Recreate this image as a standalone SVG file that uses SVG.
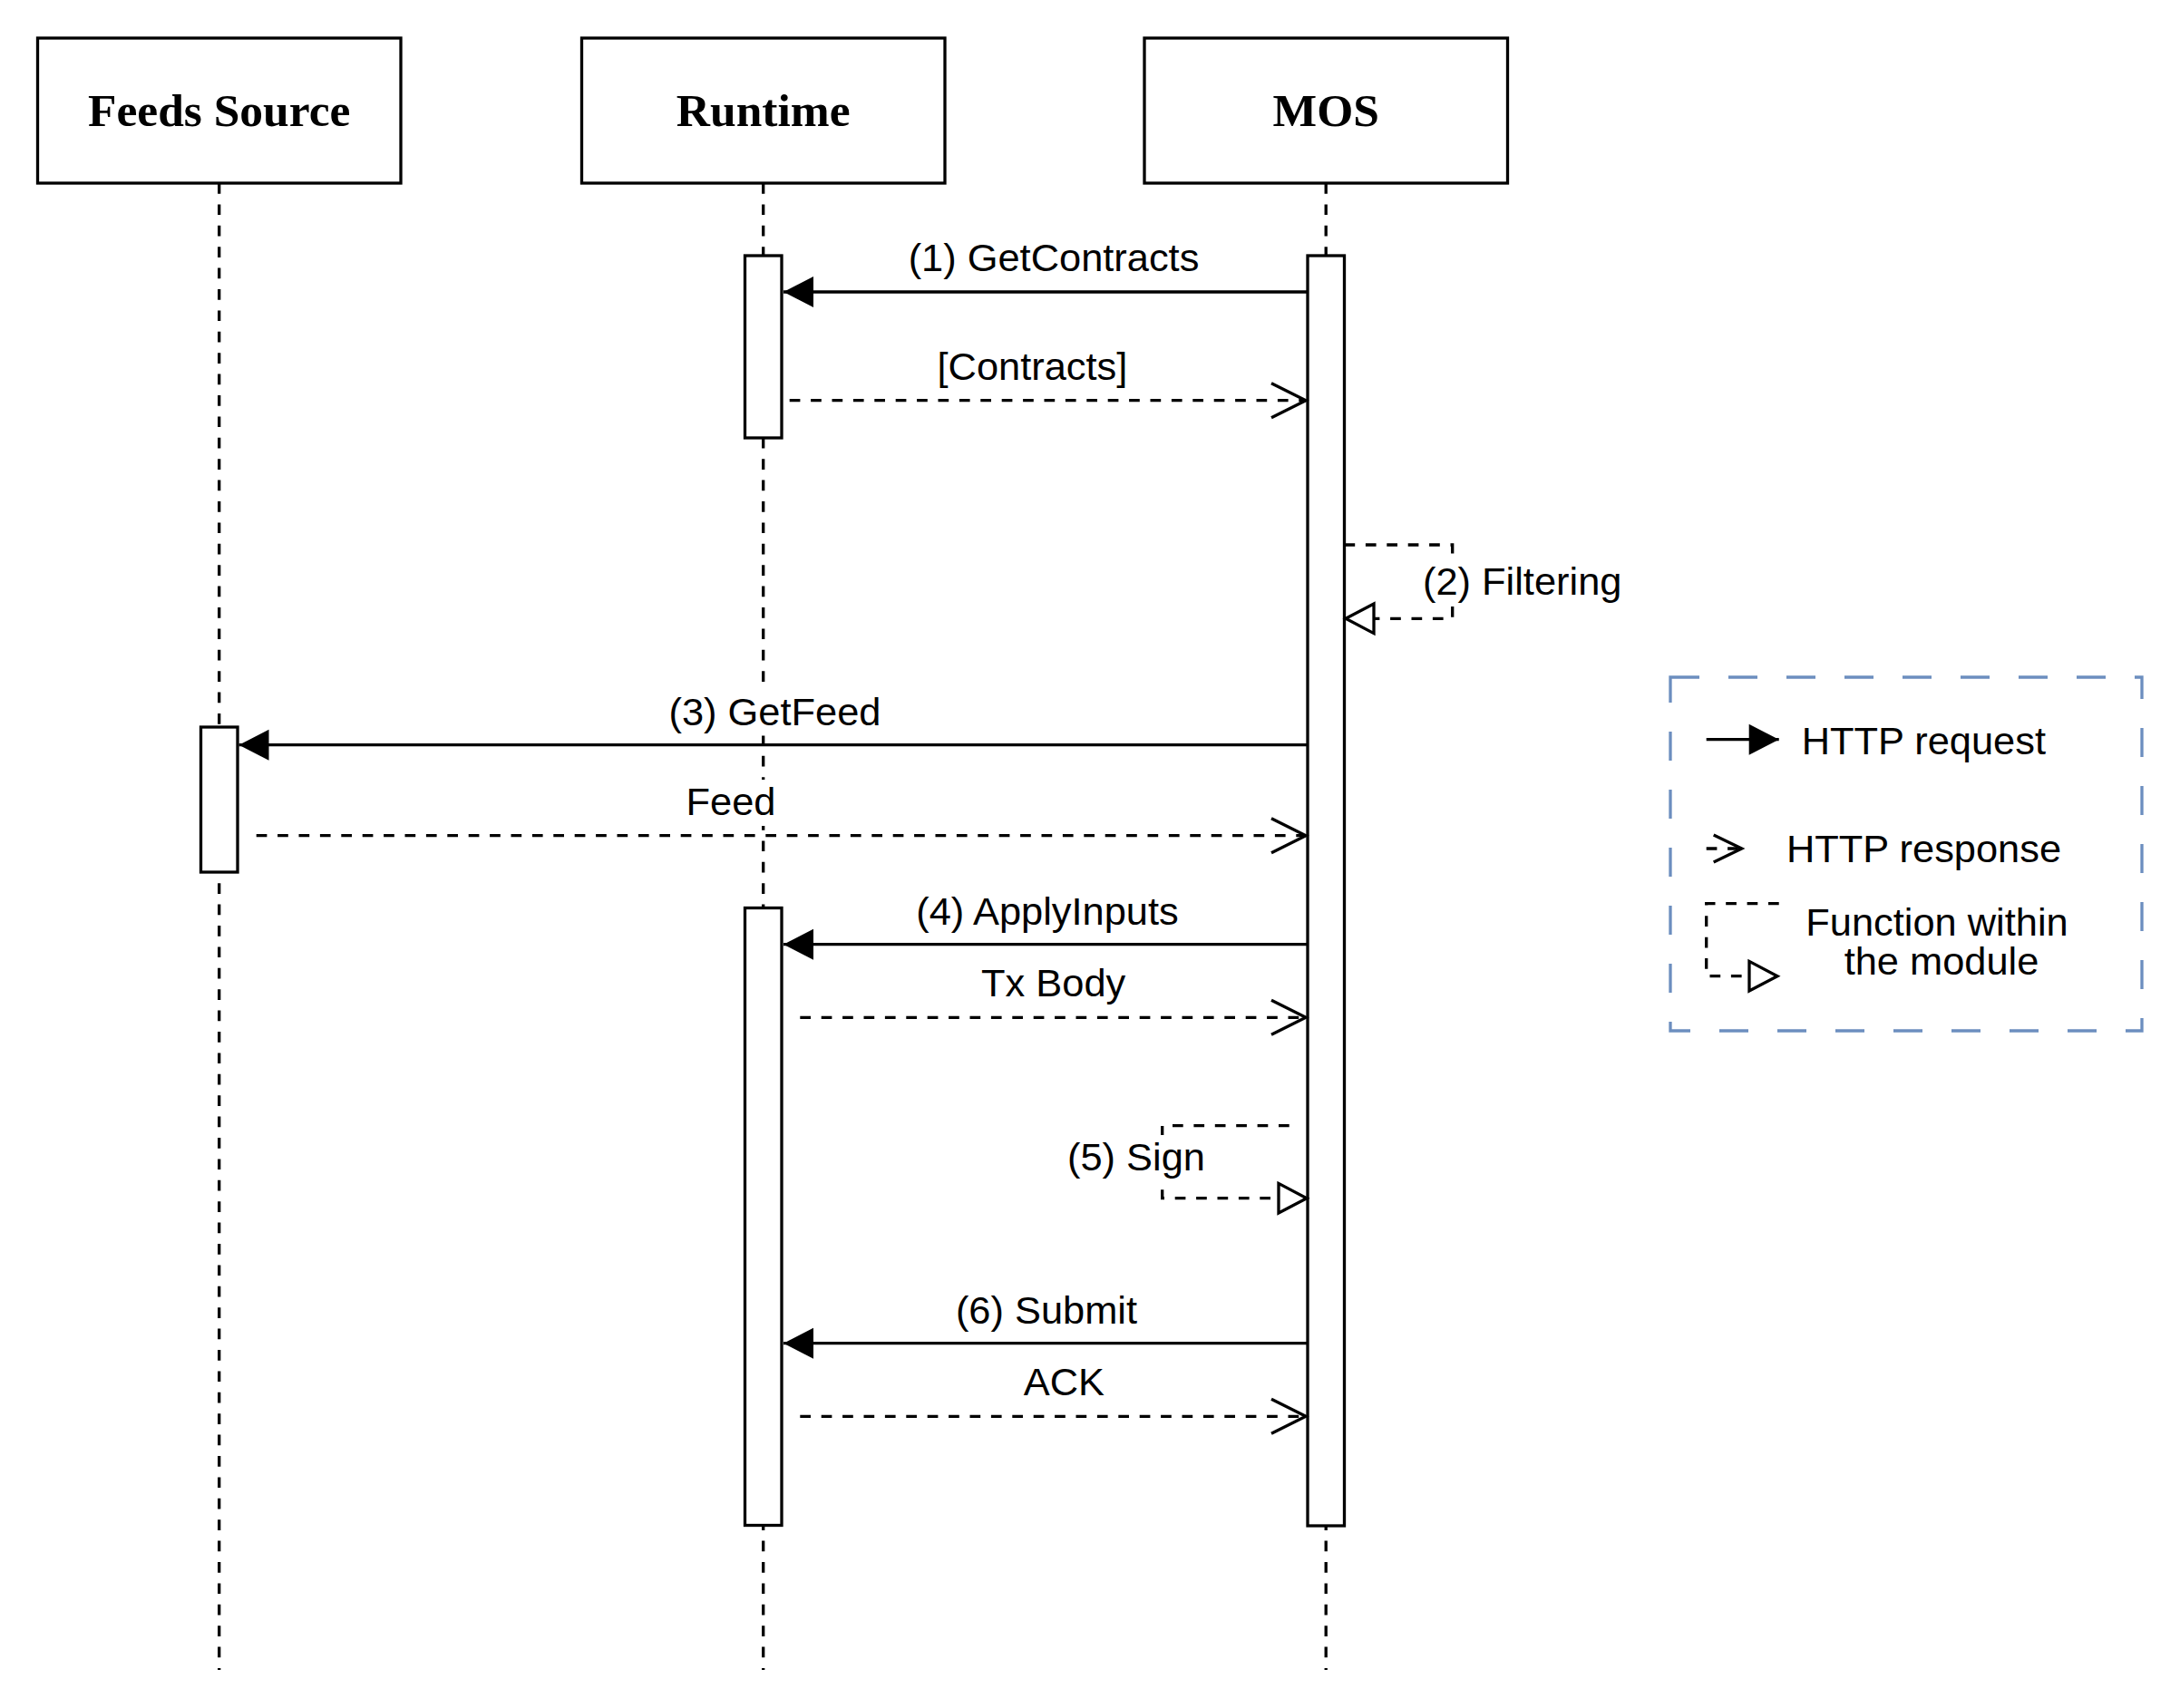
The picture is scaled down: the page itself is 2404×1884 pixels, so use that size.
<svg xmlns="http://www.w3.org/2000/svg" width="2404" height="1884" viewBox="0 0 2404 1884">
  <style>
    .box { fill: #ffffff; stroke: #000000; stroke-width: 3.3; }
    .title { font-family: "Liberation Serif", "Times New Roman", serif; font-weight: bold; font-size: 51.5px; fill: #000000; text-anchor: middle; }
    .life { fill: none; stroke: #000000; stroke-width: 3.3; stroke-dasharray: 11.7 11.7; }
    .bar { fill: #ffffff; stroke: #000000; stroke-width: 3.3; }
    .req { fill: none; stroke: #000000; stroke-width: 3.3; marker-end: url(#mReq); }
    .resp { fill: none; stroke: #000000; stroke-width: 3.3; stroke-dasharray: 11.7 11.7; marker-end: url(#mResp); }
    .self { fill: none; stroke: #000000; stroke-width: 3.3; stroke-dasharray: 11.7 11.7; marker-end: url(#mSelf); }
    .lbl { font-family: "Liberation Sans", Arial, sans-serif; font-size: 43.4px; fill: #000000; }
    .mid { text-anchor: middle; }
    .lblbg { fill: #ffffff; stroke: none; }
    .legend { fill: none; stroke: #6c8ebf; stroke-width: 3.3; stroke-dasharray: 32 32; }
  </style>
  <defs>
    <marker id="mReq" markerUnits="userSpaceOnUse" markerWidth="36" markerHeight="36" refX="33" refY="17" orient="auto" overflow="visible">
      <path d="M0,0 L33,17 L0,34 Z" fill="#000000" stroke="none"/>
    </marker>
    <marker id="mResp" markerUnits="userSpaceOnUse" markerWidth="42" markerHeight="42" refX="38" refY="19" orient="auto" overflow="visible">
      <path d="M0,0 L38,19 L0,38" fill="none" stroke="#000000" stroke-width="3.3"/>
    </marker>
    <marker id="mRespS" markerUnits="userSpaceOnUse" markerWidth="34" markerHeight="34" refX="31" refY="15" orient="auto" overflow="visible">
      <path d="M0,0 L31,15 L0,30" fill="none" stroke="#000000" stroke-width="3.3"/>
    </marker>
    <marker id="mSelf" markerUnits="userSpaceOnUse" markerWidth="36" markerHeight="36" refX="31" refY="16.3" orient="auto" overflow="visible">
      <path d="M0,0 L31,16.3 L0,32.6 Z" fill="#ffffff" stroke="#000000" stroke-width="3.3"/>
    </marker>
  </defs>
  <rect x="0" y="0" width="2404" height="1884" fill="#ffffff"/>

  <g id="lifelines">
    <line class="life" x1="241.7" y1="202" x2="241.7" y2="1842"/>
    <line class="life" x1="841.7" y1="202" x2="841.7" y2="1842"/>
    <line class="life" x1="1462.2" y1="202" x2="1462.2" y2="1842"/>
  </g>

  <g id="node-feeds-source">
    <rect class="box" x="41.5" y="42" width="400.5" height="160"/>
    <text class="title" x="241.7" y="139.3">Feeds Source</text>
  </g>
  <g id="node-runtime">
    <rect class="box" x="641.5" y="42" width="400.5" height="160"/>
    <text class="title" x="841.7" y="139.3">Runtime</text>
  </g>
  <g id="node-mos">
    <rect class="box" x="1262" y="42" width="400.5" height="160"/>
    <text class="title" x="1462.2" y="139.3">MOS</text>
  </g>

  <g id="activations">
    <rect id="act-runtime-1" class="bar" x="821.5" y="282" width="40.5" height="201"/>
    <rect id="act-mos" class="bar" x="1442" y="282" width="40.5" height="1401"/>
    <rect id="act-feeds" class="bar" x="221.5" y="802" width="40.5" height="160"/>
    <rect id="act-runtime-2" class="bar" x="821.5" y="1001.5" width="40.5" height="681"/>
  </g>

  <g id="connectors">
    <line class="req" x1="1442" y1="322" x2="864" y2="322"/>
    <line class="resp" x1="870.7" y1="441.7" x2="1440" y2="441.7"/>
    <path class="self" d="M1482.5,601 H1601.7 V682.3 H1484"/>
    <line class="req" x1="1442" y1="821.7" x2="263.5" y2="821.7"/>
    <line class="resp" x1="282.7" y1="921.7" x2="1440" y2="921.7"/>
    <line class="req" x1="1442" y1="1041.7" x2="864" y2="1041.7"/>
    <line class="resp" x1="882.3" y1="1122.3" x2="1440" y2="1122.3"/>
    <path class="self" d="M1421.7,1241.7 H1281.7 V1321.7 H1441"/>
    <line class="req" x1="1442" y1="1481.7" x2="864" y2="1481.7"/>
    <line class="resp" x1="882.3" y1="1562.3" x2="1440" y2="1562.3"/>
  </g>

  <g id="labels">
    <rect class="lblbg" x="1000" y="260" width="324" height="51"/>
    <text class="lbl mid" x="1162" y="299">(1) GetContracts</text>
    <rect class="lblbg" x="1032" y="380" width="213" height="51"/>
    <text class="lbl mid" x="1138.4" y="419">[Contracts]</text>
    <rect class="lblbg" x="1567" y="617" width="223" height="51"/>
    <text class="lbl" x="1569" y="656">(2) Filtering</text>
    <rect class="lblbg" x="736" y="760.5" width="237" height="51"/>
    <text class="lbl mid" x="854.5" y="799.5">(3) GetFeed</text>
    <rect class="lblbg" x="755" y="860" width="102" height="51"/>
    <text class="lbl mid" x="806" y="899">Feed</text>
    <rect class="lblbg" x="1007" y="981" width="296" height="51"/>
    <text class="lbl mid" x="1155" y="1020">(4) ApplyInputs</text>
    <rect class="lblbg" x="1080" y="1060.3" width="163" height="51"/>
    <text class="lbl mid" x="1161.7" y="1099.3">Tx Body</text>
    <rect class="lblbg" x="1175" y="1252" width="156" height="51"/>
    <text class="lbl mid" x="1253" y="1291">(5) Sign</text>
    <rect class="lblbg" x="1052" y="1421" width="204" height="51"/>
    <text class="lbl mid" x="1154" y="1460">(6) Submit</text>
    <rect class="lblbg" x="1127" y="1500.3" width="93" height="51"/>
    <text class="lbl mid" x="1173.3" y="1539.3">ACK</text>
  </g>

  <g id="legend">
    <rect class="legend" x="1842" y="747" width="520" height="390"/>
    <line x1="1881.7" y1="815.7" x2="1961.7" y2="815.7" stroke="#000000" stroke-width="3.3" marker-end="url(#mReq)"/>
    <text class="lbl" x="1986.7" y="831.7">HTTP request</text>
    <line x1="1881.7" y1="936" x2="1920.7" y2="936" stroke="#000000" stroke-width="3.3" stroke-dasharray="11.7 11.7" marker-end="url(#mRespS)"/>
    <text class="lbl" x="1970" y="950.7">HTTP response</text>
    <path d="M1961.7,996.7 H1881.7 V1076.7 H1960" fill="none" stroke="#000000" stroke-width="3.3" stroke-dasharray="11.7 11.7" marker-end="url(#mSelf)"/>
    <text class="lbl mid" x="2136" y="1031.7">Function within</text>
    <text class="lbl mid" x="2141" y="1075">the module</text>
  </g>
</svg>
